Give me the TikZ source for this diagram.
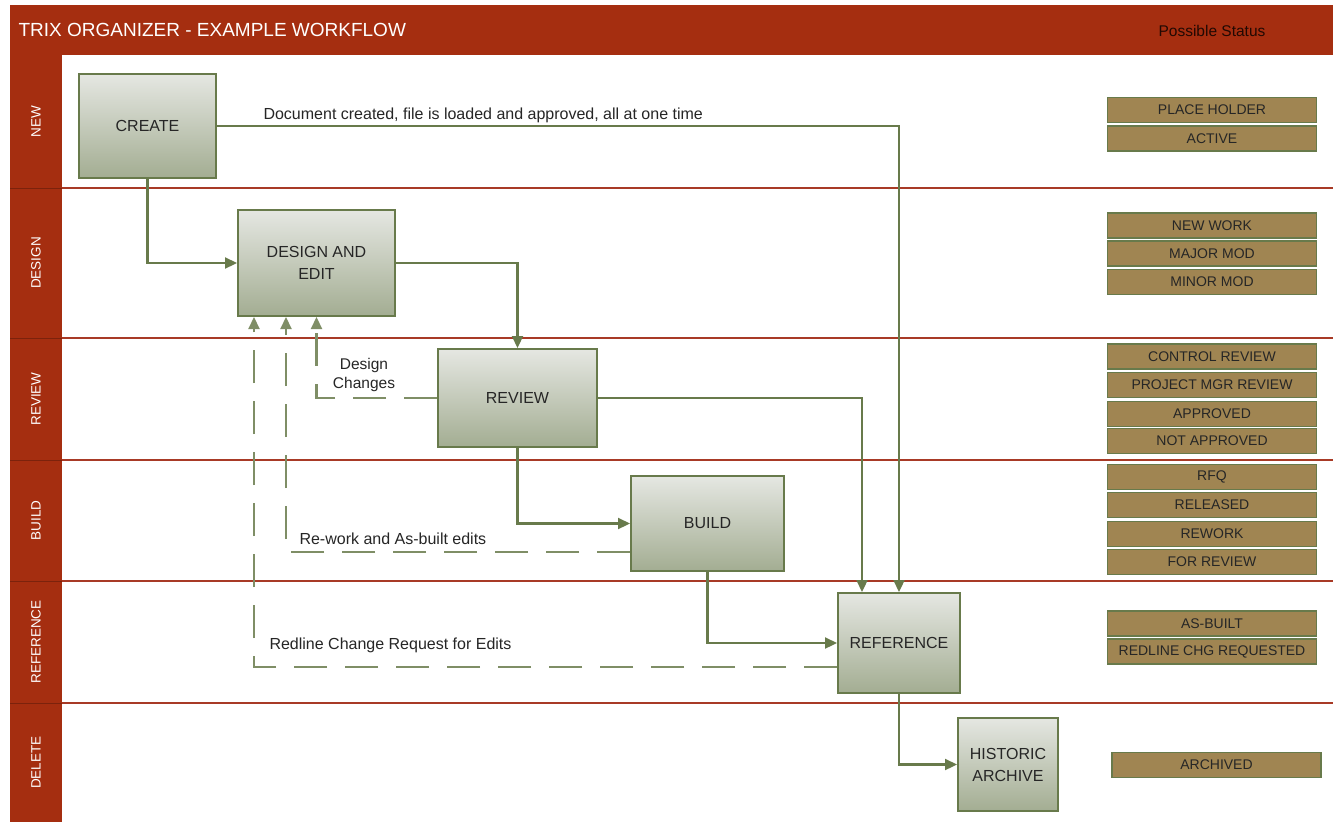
\documentclass[tikz,border=0pt]{standalone}
\usepackage{fontspec}
\setmainfont{Liberation Sans}
\usepackage{tikz}
\usepackage{xcolor}
\usetikzlibrary{arrows.meta}
\definecolor{trixred}{RGB}{165,46,16}
\definecolor{laneline}{RGB}{168,58,38}
\definecolor{flowgreen}{RGB}{104,122,75}
\definecolor{boxtop}{RGB}{229,231,226}
\definecolor{boxbot}{RGB}{163,173,146}
\definecolor{statfill}{RGB}{160,133,82}

\begin{document}
\begin{tikzpicture}[x=1pt,y=-1pt,>={Triangle[length=12pt,width=11pt]},
stagebox/.style={draw=flowgreen,line width=2pt,top color=boxtop,bottom color=boxbot,align=center,text=black!85,font=\fontsize{16}{22}\selectfont},
statbox/.style={draw=flowgreen,line width=1.8pt,fill=statfill,minimum width=209pt,minimum height=25pt,inner sep=0pt,text=black!85,font=\fontsize{14}{16}\selectfont},
lane/.style={rotate=90,text=white,font=\fontsize{13.5}{16}\selectfont},
flow/.style={->,draw=flowgreen,line width=2.2pt},
back/.style={->,draw=flowgreen!85!white,line width=2.2pt,dash pattern=on 33pt off 18pt},
note/.style={text=black!85,font=\fontsize{16}{19}\selectfont}]
\useasboundingbox (0,0) rectangle (1333,822);
\fill[white](0,0)rectangle(1333,822);
\fill[trixred](10,5)rectangle(1333,55);
\fill[trixred](10,55)rectangle(62,822);
\node[anchor=west,text=white,font=\fontsize{19}{22}\selectfont] (title) at (15,30) {TRIX ORGANIZER - EXAMPLE WORKFLOW};
\node[text=black!80!trixred,font=\fontsize{15.5}{18}\selectfont] (status) at (1212,31) {Possible Status};
\foreach \y in {188,338,460,581,703}{
\draw[laneline,line width=2pt](62,\y)--(1333,\y);
\draw[trixred!75!black](10,\y)--(62,\y);}
\foreach \y/\t in {121.5/NEW,263/DESIGN,399/REVIEW,520.5/BUILD,642/REFERENCE,762.5/DELETE}
\node[lane] (lane\t) at (36,\y) {\t};

\node[stagebox,minimum width=137pt,minimum height=104pt] (create) at (147.5,126) {CREATE};
\node[stagebox,minimum width=157pt,minimum height=106pt] (design) at (316.5,263) {DESIGN AND\\EDIT};
\node[stagebox,minimum width=159pt,minimum height=98pt] (review) at (517.5,398) {REVIEW};
\node[stagebox,minimum width=153pt,minimum height=95pt] (build) at (707.5,523.5) {BUILD};
\node[stagebox,minimum width=122pt,minimum height=100pt] (reference) at (899,643) {REFERENCE};
\node[stagebox,minimum width=100pt,minimum height=93pt] (archive) at (1008,764.5) {HISTORIC\\ARCHIVE};

\draw[flow](create)-|(reference);
\draw[flow](create)|-(design);
\draw[flow](design)-|(review);
\draw[flow](review)-|([xshift=-37pt]reference.north);
\draw[flow](review)|-(build);
\draw[flow](build)|-(reference);
\draw[flow](reference)|-(archive);
\draw[back](review)-|(design);
\draw[back]([yshift=-28.5pt]build.west)-|([xshift=-30.5pt]design.south);
\draw[back]([yshift=-24pt]reference.west)-|([xshift=-62.5pt]design.south);

\node[note,anchor=west] (created) at (260,115) {Document created, file is loaded and approved, all at one time};
\node[note,align=center,font=\fontsize{15.5}{19}\selectfont] (changes) at (364,375) {Design\\Changes};
\node[note,anchor=west] (rework) at (296,539) {Re-work and As-built edits};
\node[note,anchor=west] (redline) at (266,645) {Redline Change Request for Edits};

\foreach \y/\t [count=\i] in {110/PLACE HOLDER,138.5/ACTIVE,225.5/NEW WORK,253.5/MAJOR MOD,282/MINOR MOD,356.5/CONTROL REVIEW,385/PROJECT MGR REVIEW,414/APPROVED,441/NOT APPROVED,477/RFQ,505/RELEASED,534/REWORK,562/FOR REVIEW,623.5/AS-BUILT,651.5/REDLINE CHG REQUESTED}
\node[statbox] (stat\i) at (1212,\y) {\t};
\node[statbox] (archived) at (1216.5,765) {ARCHIVED};
\end{tikzpicture}
\end{document}
